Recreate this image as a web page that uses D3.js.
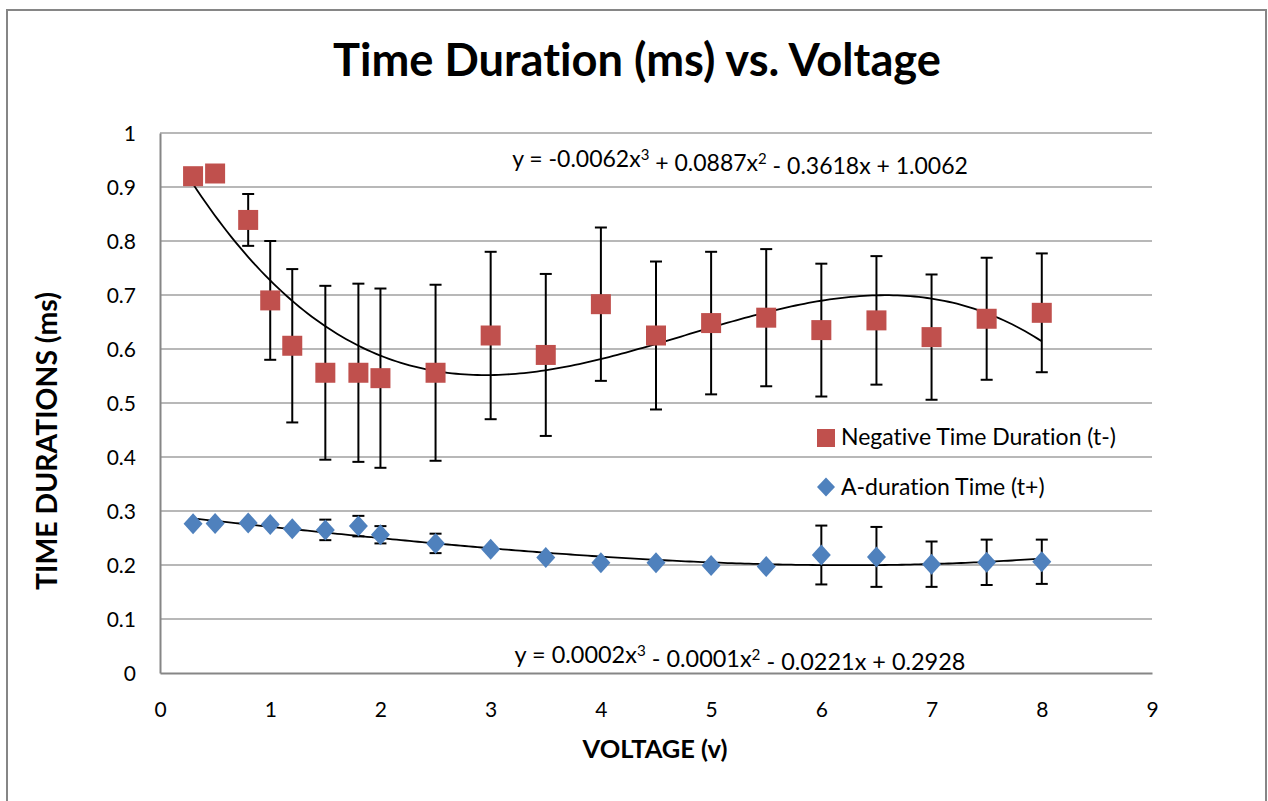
<!DOCTYPE html>
<html>
<head>
<meta charset="utf-8">
<script src="https://cdn.jsdelivr.net/npm/d3@7"></script>
<style>
  html, body { margin: 0; padding: 0; background: #fff; }
  svg { display: block; font-family: Lato, "Open Sans", sans-serif; font-variant-ligatures: none; }
</style>
</head>
<body>
<svg id="chart" width="1268" height="801"></svg>
<script>
// Applied voltage (v)
const voltage = [0.3, 0.5, 0.8, 1.0, 1.2, 1.5, 1.8, 2.0, 2.5, 3, 3.5, 4, 4.5, 5, 5.5, 6, 6.5, 7, 7.5, 8];

// Negative time duration t- (ms) and its error
const negTime = [0.920, 0.925, 0.839, 0.690, 0.606, 0.556, 0.556, 0.546, 0.556, 0.625, 0.589, 0.683, 0.625, 0.648, 0.658, 0.635, 0.653, 0.622, 0.656, 0.667];
const negErr  = [0, 0, 0.048, 0.110, 0.142, 0.161, 0.165, 0.166, 0.163, 0.155, 0.150, 0.142, 0.137, 0.132, 0.127, 0.123, 0.119, 0.116, 0.113, 0.110];

// A-duration time t+ (ms) and its error
const posTime = [0.2765, 0.277, 0.278, 0.275, 0.267, 0.265, 0.272, 0.256, 0.240, 0.229, 0.214, 0.204, 0.204, 0.199, 0.197, 0.2185, 0.215, 0.2015, 0.205, 0.206];
const posErr  = [0, 0, 0, 0, 0, 0.019, 0.019, 0.016, 0.018, 0, 0, 0, 0, 0, 0, 0.0545, 0.0555, 0.042, 0.042, 0.041];

// Cubic trendline coefficients [a3, a2, a1, a0]
const negFit = [-0.0062, 0.0887, -0.3618, 1.0062];
const posFit = [0.0002, -0.0001, -0.0221, 0.2928];

// Axis ticks
const xTicks = [0, 1, 2, 3, 4, 5, 6, 7, 8, 9];
const yTicks = [0, 0.1, 0.2, 0.3, 0.4, 0.5, 0.6, 0.7, 0.8, 0.9, 1];

const seriesNames = ["Negative Time Duration (t-)", "A-duration Time (t+)"];
const RED = "#C0504D", BLUE = "#4F81BD", GRID = "#a0a0a0", AXIS = "#868686";

const svg = d3.select("#chart");

// Outer chart frame
svg.append("rect")
  .attr("x", 7).attr("y", 10).attr("width", 1259).attr("height", 800)
  .attr("fill", "#fff").attr("stroke", AXIS).attr("stroke-width", 2);

const x = d3.scaleLinear().domain([0, 9]).range([160, 1152]);
const y = d3.scaleLinear().domain([0, 1]).range([673, 133]);

// Scale a text element so it spans a given width
function fit(sel, width) {
  const node = sel.node();
  const size = parseFloat(sel.attr("font-size"));
  const len = node.getComputedTextLength();
  sel.attr("font-size", size * width / len);
  return sel;
}

// Horizontal gridlines
svg.append("g").selectAll("line").data(yTicks.slice(1)).join("line")
  .attr("x1", x(0)).attr("x2", x(9))
  .attr("y1", d => y(d)).attr("y2", d => y(d))
  .attr("stroke", GRID).attr("stroke-width", 1.5);

// Axes
const yAxis = svg.append("g").attr("transform", `translate(${x(0)},0)`)
  .call(d3.axisLeft(y).tickValues(yTicks).tickFormat(d3.format("")).tickSize(0).tickPadding(24));
const xAxis = svg.append("g").attr("transform", `translate(0,${y(0)})`)
  .call(d3.axisBottom(x).tickValues(xTicks).tickFormat(d3.format("d")).tickSize(0).tickPadding(28));
[yAxis, xAxis].forEach(g => {
  g.select(".domain").attr("stroke", AXIS).attr("stroke-width", 2);
  g.selectAll("text").attr("font-family", "Lato, sans-serif").attr("font-size", 21).attr("fill", "#000");
});
yAxis.selectAll("text").attr("dy", "0.36em");
xAxis.selectAll("text").attr("dy", "0.36em").attr("y", 36);

// Titles
fit(svg.append("text").attr("x", 637).attr("y", 76).attr("text-anchor", "middle")
  .attr("font-weight", "bold").attr("font-size", 36).text("Time Duration (ms) vs. Voltage"), 608);
fit(svg.append("text").attr("x", 655).attr("y", 758).attr("text-anchor", "middle")
  .attr("font-weight", "bold").attr("font-size", 20).text("VOLTAGE (v)"), 145);
fit(svg.append("text").attr("transform", "translate(57,441) rotate(-90)").attr("text-anchor", "middle")
  .attr("font-weight", "bold").attr("font-size", 24).text("TIME DURATIONS (ms)"), 298);

// Trendlines
function trend(coef) {
  const f = v => ((coef[0] * v + coef[1]) * v + coef[2]) * v + coef[3];
  const xs = d3.range(0, 201).map(i => voltage[0] + (voltage[voltage.length - 1] - voltage[0]) * i / 200);
  return d3.line().x(v => x(v)).y(v => y(f(v)))(xs);
}
svg.append("path").attr("d", trend(negFit)).attr("fill", "none").attr("stroke", "#000").attr("stroke-width", 1.8);
svg.append("path").attr("d", trend(posFit)).attr("fill", "none").attr("stroke", "#000").attr("stroke-width", 1.8);

// Error bars
function errorBars(vals, errs) {
  const data = voltage.map((v, i) => ({ v, y: vals[i], e: errs[i] })).filter(d => d.e > 0);
  const g = svg.append("g").attr("stroke", "#000").attr("stroke-width", 2);
  g.selectAll(".stem").data(data).join("line")
    .attr("x1", d => x(d.v)).attr("x2", d => x(d.v))
    .attr("y1", d => y(d.y - d.e)).attr("y2", d => y(d.y + d.e));
  [1, -1].forEach(s => {
    g.selectAll(null).data(data).join("line")
      .attr("x1", d => x(d.v) - 6).attr("x2", d => x(d.v) + 6)
      .attr("y1", d => y(d.y + s * d.e)).attr("y2", d => y(d.y + s * d.e));
  });
}
errorBars(negTime, negErr);
errorBars(posTime, posErr);

// Markers
const square = d3.symbol().type(d3.symbolSquare).size(400);
const diamond = "M0,-10.5L9.5,0L0,10.5L-9.5,0Z";
svg.append("g").selectAll("path").data(voltage).join("path")
  .attr("d", square).attr("fill", RED)
  .attr("transform", (v, i) => `translate(${x(v)},${y(negTime[i])})`);
svg.append("g").selectAll("path").data(voltage).join("path")
  .attr("d", diamond).attr("fill", BLUE)
  .attr("transform", (v, i) => `translate(${x(v)},${y(posTime[i])})`);

// Trendline equations
function equation(cx, baseline, coef) {
  const t = svg.append("text").attr("x", cx).attr("y", baseline).attr("text-anchor", "middle")
    .attr("font-size", 20).attr("fill", "#000");
  const fmt = d3.format(".4f");
  const sign = (c, first) => first ? (c < 0 ? "-" : "") + fmt(Math.abs(c)) : (c < 0 ? " - " : " + ") + fmt(Math.abs(c));
  t.append("tspan").text("y = " + sign(coef[0], true) + "x");
  t.append("tspan").attr("dy", "-0.45em").attr("font-size", "0.65em").text("3");
  t.append("tspan").attr("dy", "0.45em").text(sign(coef[1], false) + "x");
  t.append("tspan").attr("dy", "-0.45em").attr("font-size", "0.65em").text("2");
  t.append("tspan").attr("dy", "0.45em").text(sign(coef[2], false) + "x" + sign(coef[3], false));
  return t;
}
const eq1 = fit(equation(740, 167, negFit), 456);
fit(equation(740, 663, posFit), 451);
const labelSize = parseFloat(eq1.attr("font-size"));

// Legend
const legend = svg.append("g");
legend.append("path").attr("d", square.size(324)).attr("fill", RED).attr("transform", "translate(826,438)");
legend.append("path").attr("d", "M0,-9.5L9,0L0,9.5L-9,0Z").attr("fill", BLUE).attr("transform", "translate(826,487)");
legend.append("text").attr("x", 841).attr("y", 445).attr("font-size", labelSize).text(seriesNames[0]);
legend.append("text").attr("x", 841).attr("y", 495).attr("font-size", labelSize).text(seriesNames[1]);
</script>
</body>
</html>
